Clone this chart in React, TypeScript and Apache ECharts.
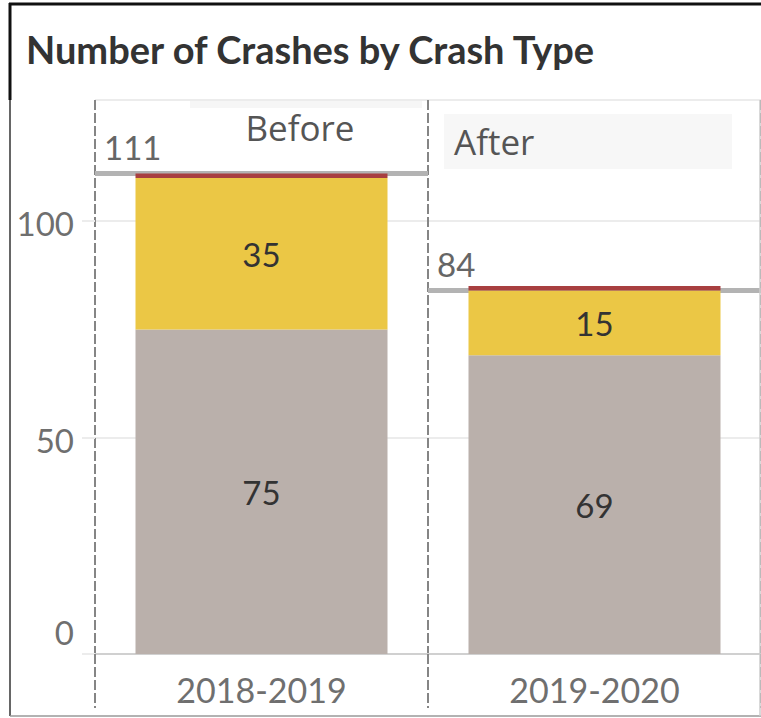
import React, { useEffect, useRef } from "react";
import * as echarts from "echarts";

const categories = ["2018-2019", "2019-2020"];
const otherCrashes = [75, 69];
const rearEndCrashes = [35, 15];
const severeCrashes = [1, 1];
const totals = [111, 84];
const panelHeaders = ["Before", "After"];
const yTicks = [0, 50, 100];

const FONT = "Lato, 'Open Sans', sans-serif";
const HEAD_FONT = "'Open Sans', Lato, sans-serif";

export default function App() {
  const ref = useRef<HTMLDivElement>(null);
  useEffect(() => {
    if (!ref.current) return;
    const chart = echarts.init(ref.current, null, { renderer: "svg" });
    const barLabel = {
      show: true,
      position: "inside",
      fontSize: 33,
      color: "#333",
      fontFamily: FONT,
    };
    chart.setOption({
      animation: false,
      backgroundColor: "#fff",
      title: {
        text: "Number of Crashes by Crash Type",
        left: 21,
        top: 25,
        textStyle: { fontSize: 38, fontWeight: "bold", color: "#333", fontFamily: FONT },
      },
      grid: { left: 95, width: 674, top: 100, bottom: 64, containLabel: false },
      xAxis: {
        type: "category",
        data: categories,
        axisLine: { show: true, lineStyle: { color: "#d0d0d0", width: 2 } },
        axisTick: {
          show: true,
          alignWithLabel: false,
          length: 54,
          lineStyle: { color: "#858585", width: 2, type: [10, 3] },
        },
        splitLine: { show: true, lineStyle: { color: "#858585", width: 2, type: [10, 3] } },
        axisLabel: { fontSize: 34, color: "#6f6f6f", fontFamily: FONT, margin: 18 },
      },
      yAxis: {
        type: "value",
        min: 0,
        max: 128,
        interval: 50,
        axisLine: { show: false },
        axisTick: { show: true, length: 13, lineStyle: { color: "#ececec", width: 2 } },
        splitLine: { show: true, lineStyle: { color: "#ececec", width: 2 } },
        axisLabel: {
          fontSize: 33,
          color: "#6f6f6f",
          fontFamily: FONT,
          margin: 21,
          showMaxLabel: false,
          formatter: (v: number) =>
            !yTicks.includes(v) ? "" : v === 0 ? "{base|" + v + "}" : "{tick|" + v + "}",
          rich: {
            base: { fontSize: 33, color: "#6f6f6f", fontFamily: FONT, padding: [0, 0, 44, 0] },
            tick: { fontSize: 33, color: "#6f6f6f", fontFamily: FONT, padding: [4, 0, 0, 0] },
          },
        },
      },
      series: [
        {
          type: "custom",
          z: 1,
          silent: true,
          data: categories.map((c, i) => [i, totals[i]]),
          renderItem: (params: any, api: any) => {
            const x = api.value(0);
            const y = api.value(1);
            const p = api.coord([x, y]);
            const w = api.size([1, 0])[0];
            return {
              type: "group",
              children: [
                {
                  type: "line",
                  shape: { x1: p[0] - w / 2, y1: p[1], x2: p[0] + w / 2, y2: p[1] },
                  style: { stroke: "#b3b3b3", lineWidth: 5 },
                },
                {
                  type: "text",
                  x: p[0] - w / 2 + 9,
                  y: p[1] - 10,
                  style: {
                    text: String(y),
                    fill: "#666",
                    fontSize: 33,
                    fontFamily: FONT,
                    align: "left",
                    verticalAlign: "bottom",
                  },
                },
              ],
            };
          },
        },
        {
          name: "Other",
          type: "bar",
          stack: "total",
          z: 2,
          barWidth: 252,
          data: otherCrashes,
          itemStyle: { color: "#bab0ab" },
          label: barLabel,
        },
        {
          name: "Rear End",
          type: "bar",
          stack: "total",
          z: 2,
          barWidth: 252,
          data: rearEndCrashes,
          itemStyle: { color: "#ebc745" },
          label: barLabel,
        },
        {
          name: "Severe",
          type: "bar",
          stack: "total",
          z: 2,
          barWidth: 252,
          data: severeCrashes,
          itemStyle: { color: "#a83f40" },
          label: { show: false },
        },
      ],
      graphic: [
        { type: "rect", z: 0, shape: { x: 190, y: 99, width: 232, height: 9 }, style: { fill: "#f6f6f6" } },
        { type: "rect", z: 0, shape: { x: 444, y: 114, width: 288, height: 55 }, style: { fill: "#f7f7f7" } },
        {
          type: "text",
          z: 10,
          x: 300,
          y: 127,
          style: { text: panelHeaders[0], fontSize: 35, fill: "#555", fontFamily: HEAD_FONT, align: "center", verticalAlign: "middle" },
        },
        {
          type: "text",
          z: 10,
          x: 454,
          y: 141,
          style: { text: panelHeaders[1], fontSize: 35, fill: "#555", fontFamily: HEAD_FONT, align: "left", verticalAlign: "middle" },
        },
        { type: "line", z: 20, shape: { x1: 9, y1: 4, x2: 761, y2: 4 }, style: { stroke: "#111", lineWidth: 3 } },
        { type: "line", z: 20, shape: { x1: 10, y1: 3, x2: 10, y2: 100 }, style: { stroke: "#111", lineWidth: 3 } },
        { type: "line", z: 20, shape: { x1: 10, y1: 100, x2: 10, y2: 716 }, style: { stroke: "#333", lineWidth: 1.5 } },
        { type: "line", z: 20, shape: { x1: 10, y1: 716, x2: 761, y2: 716 }, style: { stroke: "#999", lineWidth: 1.5 } },
        { type: "line", z: 20, shape: { x1: 760, y1: 100, x2: 760, y2: 716 }, style: { stroke: "#ccc", lineWidth: 1.5 } },
      ],
    });
    return () => chart.dispose();
  }, []);
  return (
    <div
      ref={ref}
      style={{ position: "fixed", left: 0, top: 0, width: 761, height: 718, background: "#fff" }}
    />
  );
}
